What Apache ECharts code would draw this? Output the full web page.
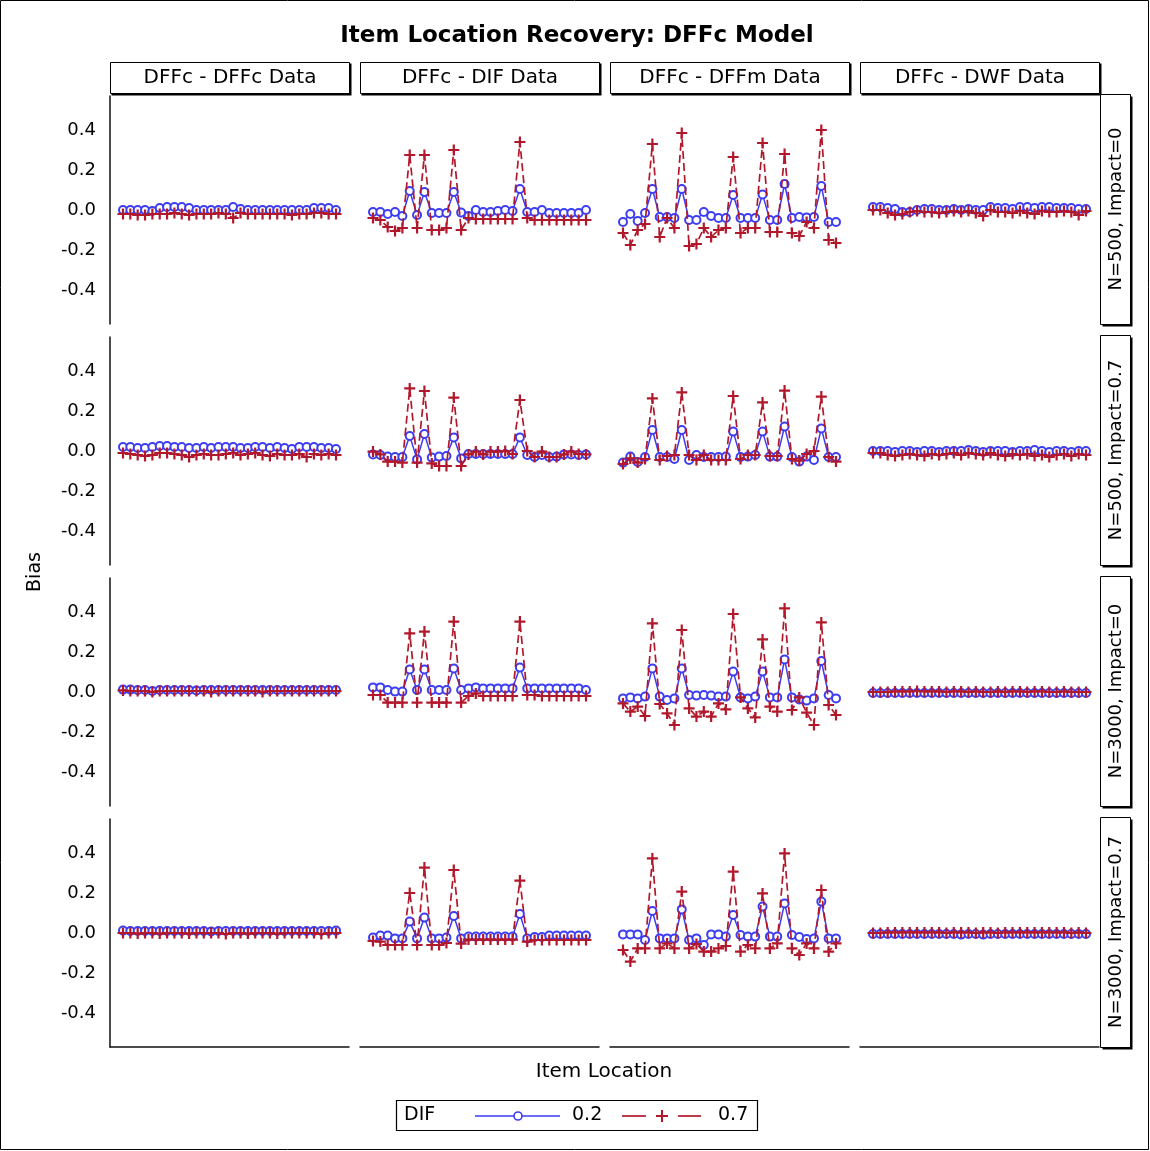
<!DOCTYPE html>
<html>
<head>
<meta charset="utf-8">
<title>Item Location Recovery: DFFc Model</title>
<script src="https://cdn.jsdelivr.net/npm/echarts@6/dist/echarts.min.js"></script>
<style>
  html, body { margin: 0; padding: 0; background: #fff; }
  #chart { width: 1150px; height: 1151px; }
</style>
</head>
<body>
<div id="chart"></div>
<script>
// x positions of the items
const itemLocation = [1,2,3,4,5,6,7,8,9,10,11,12,13,14,15,16,17,18,19,20,21,22,23,24,25,26,27,28,29,30];
const colLabels = ['DFFc - DFFc Data', 'DFFc - DIF Data', 'DFFc - DFFm Data', 'DFFc - DWF Data'];
const rowLabels = ['N=500, Impact=0', 'N=500, Impact=0.7', 'N=3000, Impact=0', 'N=3000, Impact=0.7'];
const yTicks = [-0.4, -0.2, 0, 0.2, 0.4];

// N=500, Impact=0
const r1_dffc_02 = [0.0,0.0,0.0,0.0,-0.005,0.01,0.015,0.015,0.015,0.01,0.0,0.0,0.0,0.0,0.0,0.015,0.005,0.0,0.0,0.0,0.0,0.0,0.0,0.0,0.0,0.0,0.01,0.01,0.01,0.0];
const r1_dffc_07 = [-0.02,-0.02,-0.025,-0.025,-0.02,-0.02,-0.02,-0.015,-0.02,-0.025,-0.02,-0.02,-0.02,-0.015,-0.02,-0.04,-0.015,-0.02,-0.02,-0.02,-0.02,-0.02,-0.02,-0.025,-0.02,-0.02,-0.015,-0.015,-0.02,-0.02];
const r1_dif_02 = [-0.01,-0.01,-0.02,-0.01,-0.03,0.095,-0.025,0.09,-0.015,-0.015,-0.015,0.09,-0.013,-0.03,0.0,-0.01,-0.01,-0.005,0.0,-0.005,0.105,-0.01,-0.01,0.0,-0.015,-0.015,-0.015,-0.015,-0.015,0.0];
const r1_dif_07 = [-0.04,-0.05,-0.085,-0.105,-0.09,0.275,-0.09,0.275,-0.1,-0.1,-0.09,0.3,-0.1,-0.04,-0.045,-0.045,-0.045,-0.045,-0.045,-0.045,0.34,-0.04,-0.05,-0.05,-0.05,-0.05,-0.05,-0.05,-0.05,-0.05];
const r1_dffm_02 = [-0.06,-0.02,-0.055,-0.015,0.105,-0.035,-0.035,-0.04,0.105,-0.05,-0.05,-0.01,-0.03,-0.04,-0.04,0.075,-0.04,-0.04,-0.04,0.078,-0.05,-0.05,0.13,-0.04,-0.035,-0.037,-0.035,0.12,-0.06,-0.06];
const r1_dffm_07 = [-0.115,-0.175,-0.1,-0.07,0.33,-0.135,-0.04,-0.09,0.385,-0.18,-0.17,-0.09,-0.135,-0.1,-0.09,0.265,-0.115,-0.09,-0.09,0.335,-0.11,-0.11,0.28,-0.115,-0.13,-0.06,-0.09,0.4,-0.15,-0.165];
const r1_dwf_02 = [0.015,0.015,0.01,0.005,-0.01,-0.01,0.0,0.005,0.005,0.0,0.0,0.005,0.0,0.005,0.0,0.0,0.015,0.01,0.01,0.005,0.015,0.015,0.01,0.015,0.015,0.01,0.01,0.01,0.005,0.005];
const r1_dwf_07 = [0.0,0.0,-0.015,-0.025,-0.02,-0.01,-0.005,-0.01,-0.01,-0.015,-0.01,-0.005,-0.01,-0.005,-0.015,-0.03,0.0,-0.01,-0.01,-0.015,-0.005,-0.015,-0.02,-0.005,-0.01,-0.01,-0.005,-0.01,-0.025,-0.005];

// N=500, Impact=0.7
const r2_dffc_02 = [0.02,0.02,0.015,0.015,0.02,0.025,0.025,0.02,0.02,0.015,0.015,0.02,0.015,0.02,0.02,0.02,0.015,0.015,0.02,0.02,0.015,0.02,0.015,0.01,0.02,0.02,0.02,0.015,0.015,0.01];
const r2_dffc_07 = [-0.01,-0.015,-0.02,-0.025,-0.02,-0.01,-0.01,-0.015,-0.02,-0.03,-0.02,-0.015,-0.02,-0.02,-0.015,-0.01,-0.02,-0.015,-0.01,-0.02,-0.025,-0.015,-0.02,-0.02,-0.015,-0.03,-0.015,-0.02,-0.015,-0.02];
const r2_dif_02 = [-0.017,-0.02,-0.028,-0.03,-0.03,0.075,-0.042,0.085,-0.033,-0.028,-0.025,0.068,-0.037,-0.015,-0.015,-0.015,-0.015,-0.015,-0.015,-0.015,0.068,-0.02,-0.03,-0.02,-0.03,-0.028,-0.017,-0.017,-0.02,-0.017];
const r2_dif_07 = [-0.003,-0.017,-0.053,-0.053,-0.058,0.313,-0.058,0.3,-0.062,-0.075,-0.075,0.267,-0.075,-0.017,-0.003,-0.017,-0.003,-0.003,0.0,-0.015,0.255,0.0,-0.03,-0.003,-0.03,-0.03,-0.017,-0.003,-0.015,-0.017];
const r2_dffm_02 = [-0.058,-0.028,-0.055,-0.03,0.105,-0.03,-0.03,-0.04,0.105,-0.045,-0.02,-0.03,-0.03,-0.03,-0.028,0.097,-0.03,-0.028,-0.02,0.097,-0.028,-0.028,0.122,-0.03,-0.053,-0.028,-0.045,0.113,-0.03,-0.03];
const r2_dffm_07 = [-0.065,-0.037,-0.058,-0.04,0.263,-0.045,-0.025,-0.02,0.293,-0.02,-0.045,-0.02,-0.045,-0.045,-0.045,0.275,-0.04,-0.02,-0.02,0.243,-0.025,-0.025,0.302,-0.04,-0.048,-0.015,0.0,0.272,-0.03,-0.053];
const r2_dwf_02 = [0.0,0.0,0.0,-0.005,0.0,0.0,-0.005,0.0,0.0,-0.005,0.0,0.0,0.0,0.005,0.0,-0.005,0.0,0.0,0.0,-0.005,0.0,0.0,0.005,0.0,-0.005,0.0,0.0,-0.005,0.0,0.0];
const r2_dwf_07 = [-0.01,-0.01,-0.02,-0.025,-0.02,-0.015,-0.02,-0.025,-0.015,-0.02,-0.015,-0.01,-0.02,-0.01,-0.015,-0.02,-0.01,-0.02,-0.025,-0.015,-0.02,-0.015,-0.025,-0.02,-0.03,-0.02,-0.015,-0.025,-0.015,-0.02];

// N=3000, Impact=0
const r3_dffc_02 = [0.012,0.012,0.01,0.01,0.005,0.01,0.01,0.01,0.01,0.01,0.008,0.01,0.01,0.01,0.01,0.01,0.01,0.01,0.01,0.01,0.01,0.01,0.01,0.01,0.01,0.01,0.01,0.01,0.01,0.01];
const r3_dffc_07 = [0.008,0.005,0.005,0.005,0.0,0.005,0.005,0.005,0.005,0.005,0.005,0.005,0.0,0.005,0.005,0.005,0.005,0.005,0.005,0.0,0.005,0.005,0.005,0.005,0.005,0.005,0.005,0.005,0.005,0.005];
const r3_dif_02 = [0.023,0.023,0.01,0.002,0.002,0.113,0.01,0.113,0.01,0.01,0.01,0.118,0.01,0.018,0.023,0.018,0.018,0.018,0.018,0.018,0.122,0.018,0.018,0.018,0.018,0.018,0.018,0.018,0.018,0.01];
const r3_dif_07 = [-0.015,-0.015,-0.053,-0.053,-0.053,0.293,-0.053,0.302,-0.053,-0.053,-0.053,0.352,-0.053,-0.02,-0.007,-0.02,-0.02,-0.02,-0.02,-0.02,0.352,-0.015,-0.015,-0.02,-0.02,-0.02,-0.02,-0.02,-0.02,-0.02];
const r3_dffm_02 = [-0.032,-0.027,-0.032,-0.023,0.118,-0.023,-0.04,-0.032,0.118,-0.015,-0.018,-0.015,-0.018,-0.023,-0.023,0.102,-0.027,-0.032,-0.023,0.102,-0.027,-0.027,0.163,-0.027,-0.037,-0.043,-0.032,0.155,-0.015,-0.032];
const r3_dffm_07 = [-0.057,-0.098,-0.073,-0.12,0.343,-0.06,-0.107,-0.165,0.31,-0.082,-0.123,-0.098,-0.123,-0.057,-0.087,0.39,-0.027,-0.082,-0.127,0.263,-0.073,-0.098,0.418,-0.09,-0.027,-0.103,-0.165,0.348,-0.065,-0.115];
const r3_dwf_02 = [-0.005,-0.005,-0.005,-0.005,-0.005,-0.005,-0.005,-0.005,-0.005,-0.005,-0.005,-0.005,-0.005,-0.005,-0.005,-0.005,-0.005,-0.005,-0.005,-0.005,-0.005,-0.005,-0.005,-0.005,-0.005,-0.005,-0.005,-0.005,-0.005,-0.005];
const r3_dwf_07 = [0.0,0.0,0.0,0.003,0.003,0.003,0.005,0.003,0.003,0.003,0.0,0.003,0.003,0.0,0.003,0.0,0.0,0.003,0.0,0.003,0.003,0.0,0.003,0.003,0.0,0.0,0.003,0.0,0.0,0.0];

// N=3000, Impact=0.7
const r4_dffc_02 = [0.012,0.01,0.01,0.01,0.01,0.01,0.01,0.01,0.01,0.01,0.01,0.01,0.008,0.01,0.01,0.01,0.01,0.01,0.01,0.01,0.01,0.01,0.01,0.01,0.01,0.01,0.01,0.01,0.01,0.012];
const r4_dffc_07 = [0.0,0.0,-0.003,0.0,0.0,-0.003,0.0,0.0,0.0,-0.003,0.0,0.0,0.0,0.0,-0.005,0.0,0.0,-0.003,0.0,0.0,0.0,-0.003,0.0,0.0,0.0,0.0,0.0,-0.005,0.0,0.0];
const r4_dif_02 = [-0.023,-0.013,-0.013,-0.027,-0.027,0.057,-0.027,0.077,-0.027,-0.027,-0.023,0.085,-0.027,-0.018,-0.018,-0.018,-0.018,-0.018,-0.018,-0.018,0.095,-0.027,-0.02,-0.02,-0.013,-0.013,-0.013,-0.013,-0.013,-0.013];
const r4_dif_07 = [-0.04,-0.043,-0.06,-0.06,-0.06,0.2,-0.06,0.327,-0.06,-0.06,-0.05,0.315,-0.053,-0.033,-0.033,-0.033,-0.033,-0.033,-0.033,-0.033,0.262,-0.043,-0.035,-0.035,-0.035,-0.035,-0.035,-0.035,-0.035,-0.035];
const r4_dffm_02 = [-0.007,-0.007,-0.007,-0.035,0.11,-0.027,-0.027,-0.027,0.118,-0.035,-0.027,-0.06,-0.007,-0.007,-0.018,0.09,-0.01,-0.018,-0.018,0.132,-0.018,-0.018,0.148,-0.01,-0.02,-0.03,-0.027,0.157,-0.027,-0.027];
const r4_dffm_07 = [-0.085,-0.143,-0.077,-0.077,0.373,-0.077,-0.052,-0.077,0.207,-0.077,-0.055,-0.093,-0.093,-0.077,-0.065,0.307,-0.093,-0.06,-0.077,0.198,-0.077,-0.052,0.398,-0.077,-0.11,-0.052,-0.077,0.215,-0.093,-0.052];
const r4_dwf_02 = [-0.005,-0.005,-0.005,-0.005,-0.005,-0.005,-0.005,-0.005,-0.005,-0.005,-0.005,-0.005,-0.008,-0.005,-0.005,-0.008,-0.005,-0.005,-0.005,-0.005,-0.005,-0.005,-0.005,-0.005,-0.005,-0.005,-0.005,-0.005,-0.005,-0.005];
const r4_dwf_07 = [0.0,0.0,0.003,0.003,0.003,0.003,0.003,0.003,0.003,0.003,0.0,0.003,0.003,0.003,0.0,0.003,0.003,0.0,0.003,0.003,0.003,0.003,0.003,0.003,0.003,0.003,0.003,0.0,0.003,0.0];

const low = [
  [r1_dffc_02, r1_dif_02, r1_dffm_02, r1_dwf_02],
  [r2_dffc_02, r2_dif_02, r2_dffm_02, r2_dwf_02],
  [r3_dffc_02, r3_dif_02, r3_dffm_02, r3_dwf_02],
  [r4_dffc_02, r4_dif_02, r4_dffm_02, r4_dwf_02]
];
const high = [
  [r1_dffc_07, r1_dif_07, r1_dffm_07, r1_dwf_07],
  [r2_dffc_07, r2_dif_07, r2_dffm_07, r2_dwf_07],
  [r3_dffc_07, r3_dif_07, r3_dffm_07, r3_dwf_07],
  [r4_dffc_07, r4_dif_07, r4_dffm_07, r4_dwf_07]
];

const FONT = 'DejaVu Sans';
const BLUE = '#3d3df2';
const RED = '#b2182b';
const plusPath = 'path://M4,0 H6 V4 H10 V6 H6 V10 H4 V6 H0 V4 H4 Z';

const gridLeft = 110, gridTop = 96, colStep = 250, rowStep = 241, gw = 239, gh = 228;

var grids = [], xAxes = [], yAxes = [], series = [], graphics = [];

for (let r = 0; r < 4; r++) {
  for (let c = 0; c < 4; c++) {
    let idx = r * 4 + c;
    grids.push({ left: gridLeft + c * colStep, top: gridTop + r * rowStep, width: gw, height: gh });
    xAxes.push({
      gridIndex: idx, type: 'value', min: -0.77, max: 31.77,
      axisLine: { show: r === 3, onZero: false, lineStyle: { color: '#111', width: 1.5 } },
      axisTick: { show: false }, axisLabel: { show: false }, splitLine: { show: false }
    });
    yAxes.push({
      gridIndex: idx, type: 'value', min: -0.57, max: 0.57,
      axisLine: { show: c === 0, onZero: false, lineStyle: { color: '#111', width: 1.5 } },
      axisTick: { show: false },
      axisLabel: {
        show: c === 0, customValues: yTicks, margin: 14,
        fontFamily: FONT, fontSize: 18, color: '#000',
        formatter: v => v.toFixed(1)
      },
      splitLine: { show: false }
    });
    series.push({
      name: '0.2', type: 'line', xAxisIndex: idx, yAxisIndex: idx,
      data: itemLocation.map((x, i) => [x, low[r][c][i]]),
      symbol: 'emptyCircle', symbolSize: 8,
      lineStyle: { color: BLUE, width: 1.5 },
      itemStyle: { color: BLUE, borderColor: BLUE, borderWidth: 1.6 },
      z: 2
    });
    series.push({
      name: '0.7', type: 'line', xAxisIndex: idx, yAxisIndex: idx,
      data: itemLocation.map((x, i) => [x, high[r][c][i]]),
      symbol: plusPath, symbolSize: 11,
      lineStyle: { color: RED, width: 1.7, type: [8, 4] },
      itemStyle: { color: RED },
      z: 3
    });
  }
}

// outer frame and title
graphics.push({ type: 'rect', shape: { x: 0.5, y: 0.5, width: 1148, height: 1149 }, style: { fill: 'none', stroke: '#000', lineWidth: 1 }, silent: true });
graphics.push({ type: 'text', x: 577, y: 36, style: { text: 'Item Location Recovery: DFFc Model', font: 'bold 23px "DejaVu Sans"', fill: '#000', align: 'center', verticalAlign: 'middle' } });

// column strips
for (let c = 0; c < 4; c++) {
  let x = gridLeft + c * colStep;
  graphics.push({ type: 'rect', shape: { x: x + 1.5, y: 63.5, width: 240, height: 32 }, style: { fill: '#000' } });
  graphics.push({ type: 'rect', shape: { x: x + 0.5, y: 62.5, width: 239, height: 31 }, style: { fill: '#fff', stroke: '#000', lineWidth: 1 } });
  graphics.push({ type: 'text', x: x + 120, y: 78, style: { text: colLabels[c], font: '20px "DejaVu Sans"', fill: '#000', align: 'center', verticalAlign: 'middle' } });
}
// row strips
for (let r = 0; r < 4; r++) {
  let y = gridTop + r * rowStep;
  graphics.push({ type: 'rect', shape: { x: 1102.5, y: y + 0.5, width: 30, height: 230 }, style: { fill: '#000' } });
  graphics.push({ type: 'rect', shape: { x: 1100.5, y: y - 1.5, width: 30, height: 230 }, style: { fill: '#fff', stroke: '#000', lineWidth: 1 } });
  graphics.push({ type: 'text', x: 1116, y: y + 113, rotation: Math.PI / 2, style: { text: rowLabels[r], font: '18px "DejaVu Sans"', fill: '#000', align: 'center', verticalAlign: 'middle' } });
}

// axis titles
graphics.push({ type: 'text', x: 35, y: 572, rotation: Math.PI / 2, style: { text: 'Bias', font: '19px "DejaVu Sans"', fill: '#000', align: 'center', verticalAlign: 'middle' } });
graphics.push({ type: 'text', x: 604, y: 1072, style: { text: 'Item Location', font: '20px "DejaVu Sans"', fill: '#000', align: 'center', verticalAlign: 'middle' } });

// legend
graphics.push({ type: 'rect', shape: { x: 396.5, y: 1100.5, width: 361, height: 30 }, style: { fill: '#fff', stroke: '#000', lineWidth: 1.2 } });
graphics.push({ type: 'text', x: 404, y: 1115, style: { text: 'DIF', font: '19px "DejaVu Sans"', fill: '#000', align: 'left', verticalAlign: 'middle' } });
graphics.push({ type: 'line', shape: { x1: 475, y1: 1116, x2: 560, y2: 1116 }, style: { stroke: BLUE, lineWidth: 1.5 } });
graphics.push({ type: 'circle', shape: { cx: 518, cy: 1116, r: 4 }, style: { fill: '#fff', stroke: BLUE, lineWidth: 1.6 } });
graphics.push({ type: 'text', x: 572, y: 1115, style: { text: '0.2', font: '19px "DejaVu Sans"', fill: '#000', align: 'left', verticalAlign: 'middle' } });
graphics.push({ type: 'line', shape: { x1: 622, y1: 1116, x2: 646, y2: 1116 }, style: { stroke: RED, lineWidth: 1.7 } });
graphics.push({ type: 'line', shape: { x1: 678, y1: 1116, x2: 701, y2: 1116 }, style: { stroke: RED, lineWidth: 1.7 } });
graphics.push({ type: 'line', shape: { x1: 656, y1: 1116, x2: 668, y2: 1116 }, style: { stroke: RED, lineWidth: 2 } });
graphics.push({ type: 'line', shape: { x1: 662, y1: 1110, x2: 662, y2: 1122 }, style: { stroke: RED, lineWidth: 2 } });
graphics.push({ type: 'text', x: 718, y: 1115, style: { text: '0.7', font: '19px "DejaVu Sans"', fill: '#000', align: 'left', verticalAlign: 'middle' } });

var myChart = echarts.init(document.getElementById('chart'));
var option = {
  backgroundColor: '#fff',
  animation: false,
  grid: grids,
  xAxis: xAxes,
  yAxis: yAxes,
  series: series,
  graphic: graphics
};
myChart.setOption(option);
</script>
</body>
</html>
